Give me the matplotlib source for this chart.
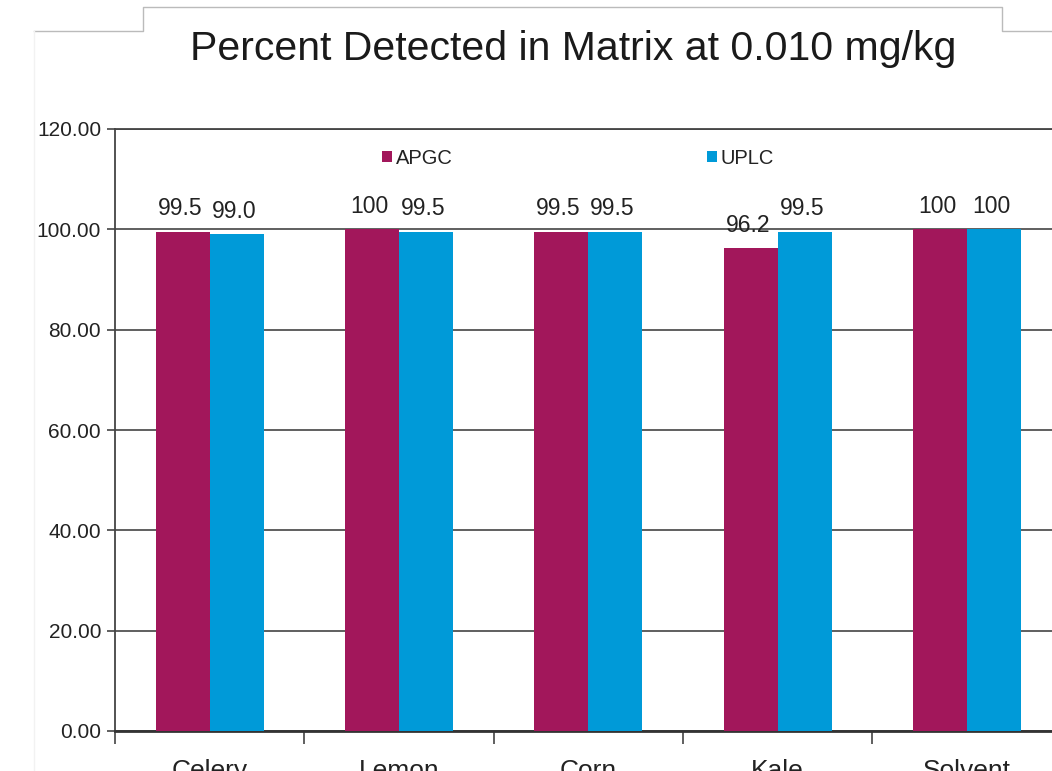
import matplotlib
matplotlib.use("Agg")
import matplotlib.pyplot as plt
from matplotlib.lines import Line2D
from matplotlib.patches import Patch
import numpy as np

plt.rcParams['font.family'] = ['Liberation Sans', 'DejaVu Sans']

categories = ["Celery", "Lemon", "Corn", "Kale", "Solvent"]
apgc = [99.5, 100, 99.5, 96.2, 100]
uplc = [99.0, 99.5, 99.5, 99.5, 100]
apgc_labels = ["99.5", "100", "99.5", "96.2", "100"]
uplc_labels = ["99.0", "99.5", "99.5", "99.5", "100"]
series_names = ["APGC", "UPLC"]
yticks = [0, 20, 40, 60, 80, 100, 120]

c_apgc = "#A2175B"
c_uplc = "#009AD8"

W, H = 1052, 771
fig = plt.figure(figsize=(W / 100, H / 100), dpi=100)

# axes extends beyond the right edge (as in the cropped reference)
ax = fig.add_axes([115 / W, 40 / H, 946.5 / W, 602 / H])

x = np.arange(len(categories))
bw = 0.285
b1 = ax.bar(x - bw / 2, apgc, bw, color=c_apgc, zorder=3)
b2 = ax.bar(x + bw / 2, uplc, bw, color=c_uplc, zorder=3)

for rect, lab in zip(b1, apgc_labels):
    ax.annotate(lab, (rect.get_x() + rect.get_width() / 2, rect.get_height()),
                xytext=(-2, 12), textcoords="offset points", ha="center",
                va="baseline", fontsize=16.5, color="#222222")
for rect, lab in zip(b2, uplc_labels):
    ax.annotate(lab, (rect.get_x() + rect.get_width() / 2, rect.get_height()),
                xytext=(-2, 12), textcoords="offset points", ha="center",
                va="baseline", fontsize=16.5, color="#222222")

ax.set_xlim(-0.5, len(categories) - 0.5)
ax.set_ylim(0, 120)
ax.set_yticks(yticks)
ax.set_yticklabels([f"{v:.2f}" for v in yticks])
ax.yaxis.grid(True, color="#444444", linewidth=1.2, zorder=0)
ax.set_axisbelow(True)

ax.set_xticks(x)
ax.set_xticklabels(categories)
ax.set_xticks(np.arange(-0.5, len(categories), 1.0), minor=True)
ax.tick_params(axis="x", which="major", length=0, pad=20, labelsize=19,
               labelcolor="#222222")
ax.tick_params(axis="x", which="minor", length=9, width=1.2, color="#444444",
               direction="out")
ax.tick_params(axis="y", length=6, width=1.2, color="#444444", pad=4,
               labelsize=15, labelcolor="#222222")

for s in ["left", "top"]:
    ax.spines[s].set_color("#444444")
    ax.spines[s].set_linewidth(1.3)
ax.spines["bottom"].set_color("#333333")
ax.spines["bottom"].set_linewidth(2.0)
ax.spines["right"].set_visible(False)

handles = [Patch(facecolor=c_apgc, label=series_names[0]),
           Patch(facecolor=c_uplc, label=series_names[1])]
fig.legend(handles=handles, loc="center left",
           bbox_to_anchor=(382 / W, 1 - 158 / H), ncol=2, frameon=False,
           fontsize=14.5, handlelength=0.5, handleheight=0.5,
           handletextpad=0.2, columnspacing=12.6, borderpad=0,
           borderaxespad=0, labelcolor="#222222")

fig.text(573.5 / W, 1 - 60 / H, "Percent Detected in Matrix at 0.010 mg/kg",
         ha="center", va="baseline", fontsize=29.5, color="#1a1a1a")

# title box frame lines
fc = "#bbbbbb"
pts_x = [34, 143, 143, 1002, 1002, 1052]
pts_y = [31, 31, 7, 7, 31, 31]
fig.add_artist(Line2D([p / W for p in pts_x], [1 - p / H for p in pts_y],
                      color=fc, linewidth=1.0, transform=fig.transFigure))
fig.add_artist(Line2D([34 / W, 34 / W], [1 - 31 / H, 0], color="#f2f2f2",
                      linewidth=1.0, transform=fig.transFigure))

fig.savefig("out.png", dpi=100)
